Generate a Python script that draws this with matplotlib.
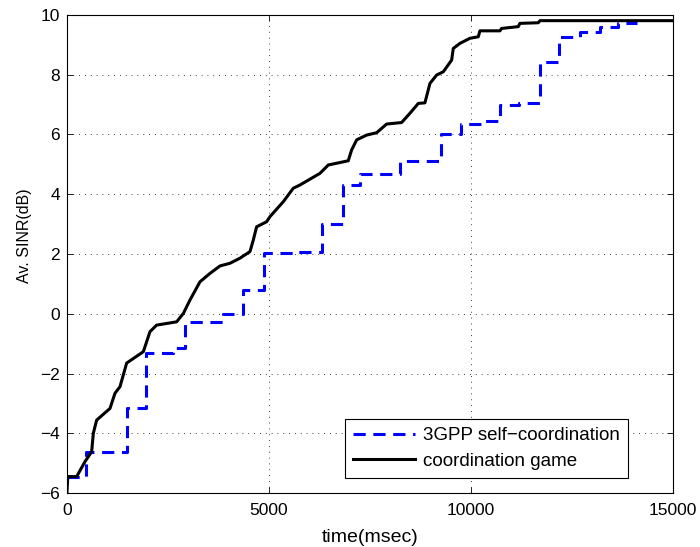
import matplotlib
matplotlib.use("Agg")
import matplotlib.pyplot as plt

# 3GPP self-coordination (step series)
gpp_t = [0, 480, 1477, 1955, 2625, 2920, 3860, 4350, 4876, 5600, 6310, 6820, 7250,
         8240, 9270, 9760, 10350, 10720, 11200, 11700, 12180, 12700, 13200, 13640, 14100]
gpp_v = [-5.45, -4.62, -3.15, -1.30, -1.14, -0.27, -0.02, 0.80, 2.02, 2.07, 3.0, 4.31, 4.68,
         5.12, 6.02, 6.35, 6.45, 6.99, 7.05, 8.44, 9.25, 9.44, 9.59, 9.74, 9.74]

# coordination game
game_t = [0, 20, 240, 445, 610, 652, 734, 1064, 1188, 1312, 1477, 1890, 2054, 2219, 2714,
          2880, 3044, 3292, 3539, 3787, 4034, 4282, 4529, 4612, 4694, 4942, 5024, 5354,
          5600, 5767, 6262, 6468, 6962, 7045, 7170, 7417, 7665, 7912, 8283, 8489, 8695,
          8860, 8984, 9150, 9315, 9521, 9562, 9727, 9974, 10180, 10222, 10717, 10758,
          11170, 11212, 11665, 11707, 15000]
game_v = [-5.95, -5.45, -5.45, -4.95, -4.62, -4.0, -3.56, -3.17, -2.66, -2.44, -1.65, -1.27,
          -0.60, -0.38, -0.27, 0.01, 0.46, 1.07, 1.35, 1.6, 1.69, 1.86, 2.08, 2.47, 2.91,
          3.08, 3.25, 3.75, 4.2, 4.31, 4.70, 4.98, 5.12, 5.48, 5.82, 5.98, 6.06, 6.35, 6.40,
          6.71, 7.04, 7.06, 7.71, 7.99, 8.10, 8.49, 8.88, 9.05, 9.22, 9.27, 9.47, 9.47,
          9.55, 9.61, 9.72, 9.74, 9.81, 9.81]

xticks = [0, 5000, 10000, 15000]
yticks = [-6, -4, -2, 0, 2, 4, 6, 8, 10]

plt.rcParams['font.family'] = ['Liberation Sans', 'DejaVu Sans']
fig = plt.figure(figsize=(7.0, 5.47), dpi=100)
ax = fig.add_axes([0.0957, 0.0987, 0.8657, 0.8739])

ax.plot(gpp_t, gpp_v, drawstyle='steps-post', color='#0000ff', lw=2.2,
        dashes=(4, 2.5), label='3GPP self\u2212coordination')
ax.plot(game_t, game_v, color='black', lw=2.2, label='coordination game')

ax.set_xlim(0, 15000)
ax.set_ylim(-6, 10)
ax.set_xticks(xticks)
ax.set_yticks(yticks)
ax.set_xticklabels(['0', '5000', '10000', '15000'])
ax.set_yticklabels([('\u2212' + str(-v)) if v < 0 else str(v) for v in yticks])
ax.tick_params(direction='in', length=4, width=0.6, labelsize=12.5, top=True, right=True)
ax.tick_params(axis='x', pad=7)
ax.tick_params(axis='y', pad=5)
ax.grid(True, color='black', linestyle=(0, (1, 6)), lw=0.6)
for s in ax.spines.values():
    s.set_linewidth(0.8)

ax.set_xlabel('time(msec)', fontsize=14, labelpad=8)
ax.set_ylabel('Av. SINR(dB)', fontsize=11.5)
ax.yaxis.set_label_coords(-0.0578, 0.538)

leg = ax.legend(loc='lower right', bbox_to_anchor=(0.926, 0.031), fontsize=13.5,
                fancybox=False, framealpha=1, edgecolor='black', handlelength=3.3,
                borderpad=0.45, labelspacing=0.45, handletextpad=0.4, borderaxespad=0)
leg.get_frame().set_linewidth(0.8)

fig.savefig('out.png', dpi=100)
